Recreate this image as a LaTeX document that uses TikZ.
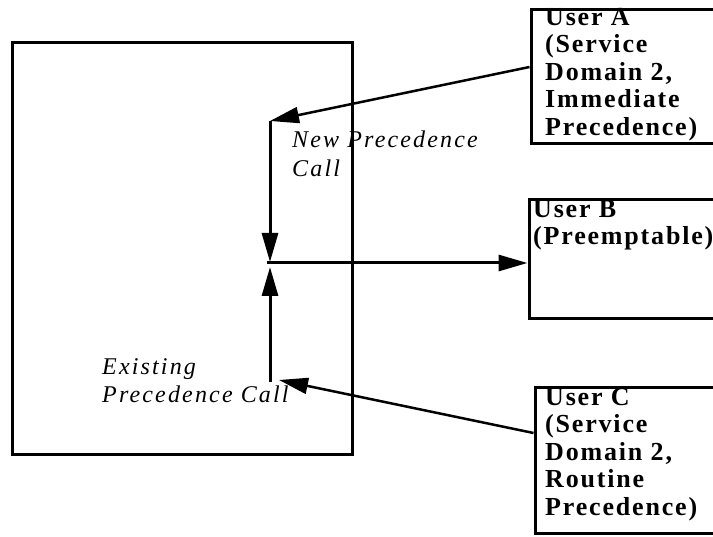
\documentclass[tikz,border=0pt]{standalone}
\usepackage{fontspec}
\setmainfont{Liberation Serif}
\newfontfamily\boxfont[LetterSpace=7]{Liberation Serif}
\newfontfamily\callfont[LetterSpace=9]{Liberation Serif}
\usetikzlibrary{arrows.meta}
\begin{document}
\begin{tikzpicture}[x=1pt,y=-1pt,
  boxline/.style={draw=black, line width=3pt, inner sep=0pt},
  boxtext/.style={anchor=north west, inner sep=0pt, align=left,
    font=\boxfont\bfseries\fontsize{26}{27.5}\selectfont},
  calltext/.style={anchor=north west, inner sep=0pt, align=left,
    font=\callfont\itshape\fontsize{24}{28.5}\selectfont},
  flow/.style={line width=3pt, -{Triangle[length=29pt,width=16pt]}},
  ]
\useasboundingbox (0,0) rectangle (713,537);
\fill[white] (0,0) rectangle (713,537);

% boxes
\node[boxline, minimum width=340pt, minimum height=412pt] (sys) at (182,249) {};
\node[boxline, minimum width=189pt, minimum height=134pt] (boxA) at (625.5,77) {};
\node[boxline, minimum width=191pt, minimum height=119pt] (boxB) at (624.5,259.5) {};
\node[boxline, minimum width=185pt, minimum height=145pt] (boxC) at (627.5,460.5) {};

% box texts
\node[boxtext] (tA) at (545,8) {User A\\(Service\\Domain 2,\\Immediate\\Precedence)};
\node[boxtext] (tB) at (533,200) {User B\\(Preemptable)};
\node[boxtext] (tC) at (545,388) {User C\\(Service\\Domain 2,\\Routine\\Precedence)};

% call labels
\node[calltext] (tNew) at (292,131) {New Precedence\\Call};
\node[calltext] (tOld) at (102,358) {Existing\\Precedence Call};

% connector points
\coordinate (ntop) at (270,121);
\coordinate (junc) at (270,263);
\coordinate (ebot) at (270,382);
\coordinate (etip) at (279,380);

% connectors
\draw[flow, line width=2.5pt] ([yshift=10pt]boxA.west) -- (ntop);
\draw[flow] (ntop) -- ([yshift=1pt]junc);
\draw[flow] ([xshift=-3pt]junc) -- (boxB.west |- junc);
\draw[flow] (ebot) -- ([yshift=-4pt]junc);
\draw[flow, line width=2.5pt] ([yshift=27.5pt]boxC.west) -- (etip);
\end{tikzpicture}
\end{document}
